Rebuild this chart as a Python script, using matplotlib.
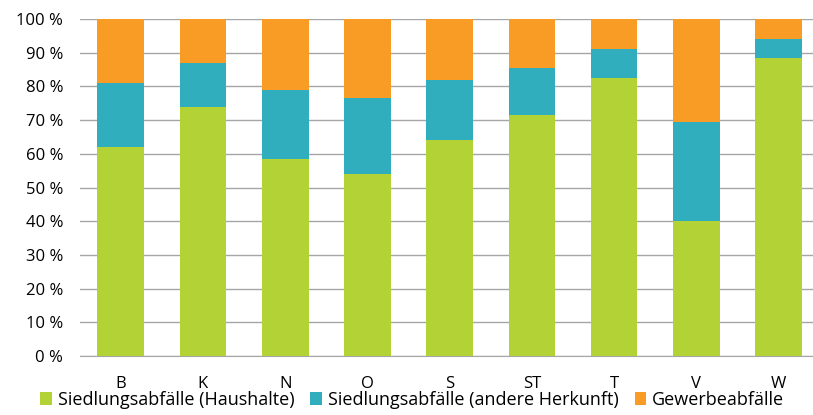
import matplotlib
matplotlib.use("Agg")
import matplotlib.pyplot as plt
import numpy as np

plt.rcParams['font.family'] = ['Open Sans', 'DejaVu Sans']

# Anteile je Region in Prozent
regionen = ['B', 'K', 'N', 'O', 'S', 'ST', 'T', 'V', 'W']
haushalte = [62.0, 74.0, 58.5, 54.0, 64.0, 71.5, 82.5, 40.0, 88.5]
andere_herkunft = [19.0, 13.0, 20.5, 22.5, 18.0, 14.0, 8.5, 29.5, 5.5]
gewerbe = [100 - h - a for h, a in zip(haushalte, andere_herkunft)]

farben = ['#b3d236', '#31aebd', '#f89c26']
namen = ['Siedlungsabfälle (Haushalte)', 'Siedlungsabfälle (andere Herkunft)', 'Gewerbeabfälle']

fig = plt.figure(figsize=(8.13, 4.15), dpi=100)
ax = fig.add_axes([0.098, 0.142, 0.902, 0.812])

x = np.arange(len(regionen))
breite = 0.567
unten = np.zeros(len(regionen))
balken = []
for werte, farbe, name in zip([haushalte, andere_herkunft, gewerbe], farben, namen):
    b = ax.bar(x, werte, breite, bottom=unten, color=farbe, label=name, zorder=3)
    balken.append(b)
    unten += np.array(werte)

ax.set_ylim(0, 100)
ax.set_xlim(-0.5, 8.42)
ax.set_yticks(np.arange(0, 101, 10))
ax.set_yticklabels([f'{v} %' for v in range(0, 101, 10)])
ax.set_xticks(x)
ax.set_xticklabels(regionen)
ax.yaxis.grid(True, color='#a6a6a6', linewidth=1.0, zorder=0)
for s in ['top', 'right', 'left']:
    ax.spines[s].set_visible(False)
ax.spines['bottom'].set_color('#a6a6a6')
ax.tick_params(axis='both', length=0, labelsize=12, colors='#000000')
ax.tick_params(axis='y', pad=12)
ax.tick_params(axis='x', pad=14)

fig.legend(handles=balken, labels=namen, loc='lower center', bbox_to_anchor=(0.507, -0.025),
           ncol=3, frameon=False, fontsize=13, handlelength=0.65, handleheight=0.75,
           handletextpad=0.3, columnspacing=0.9)

fig.savefig('out.png', dpi=100)
